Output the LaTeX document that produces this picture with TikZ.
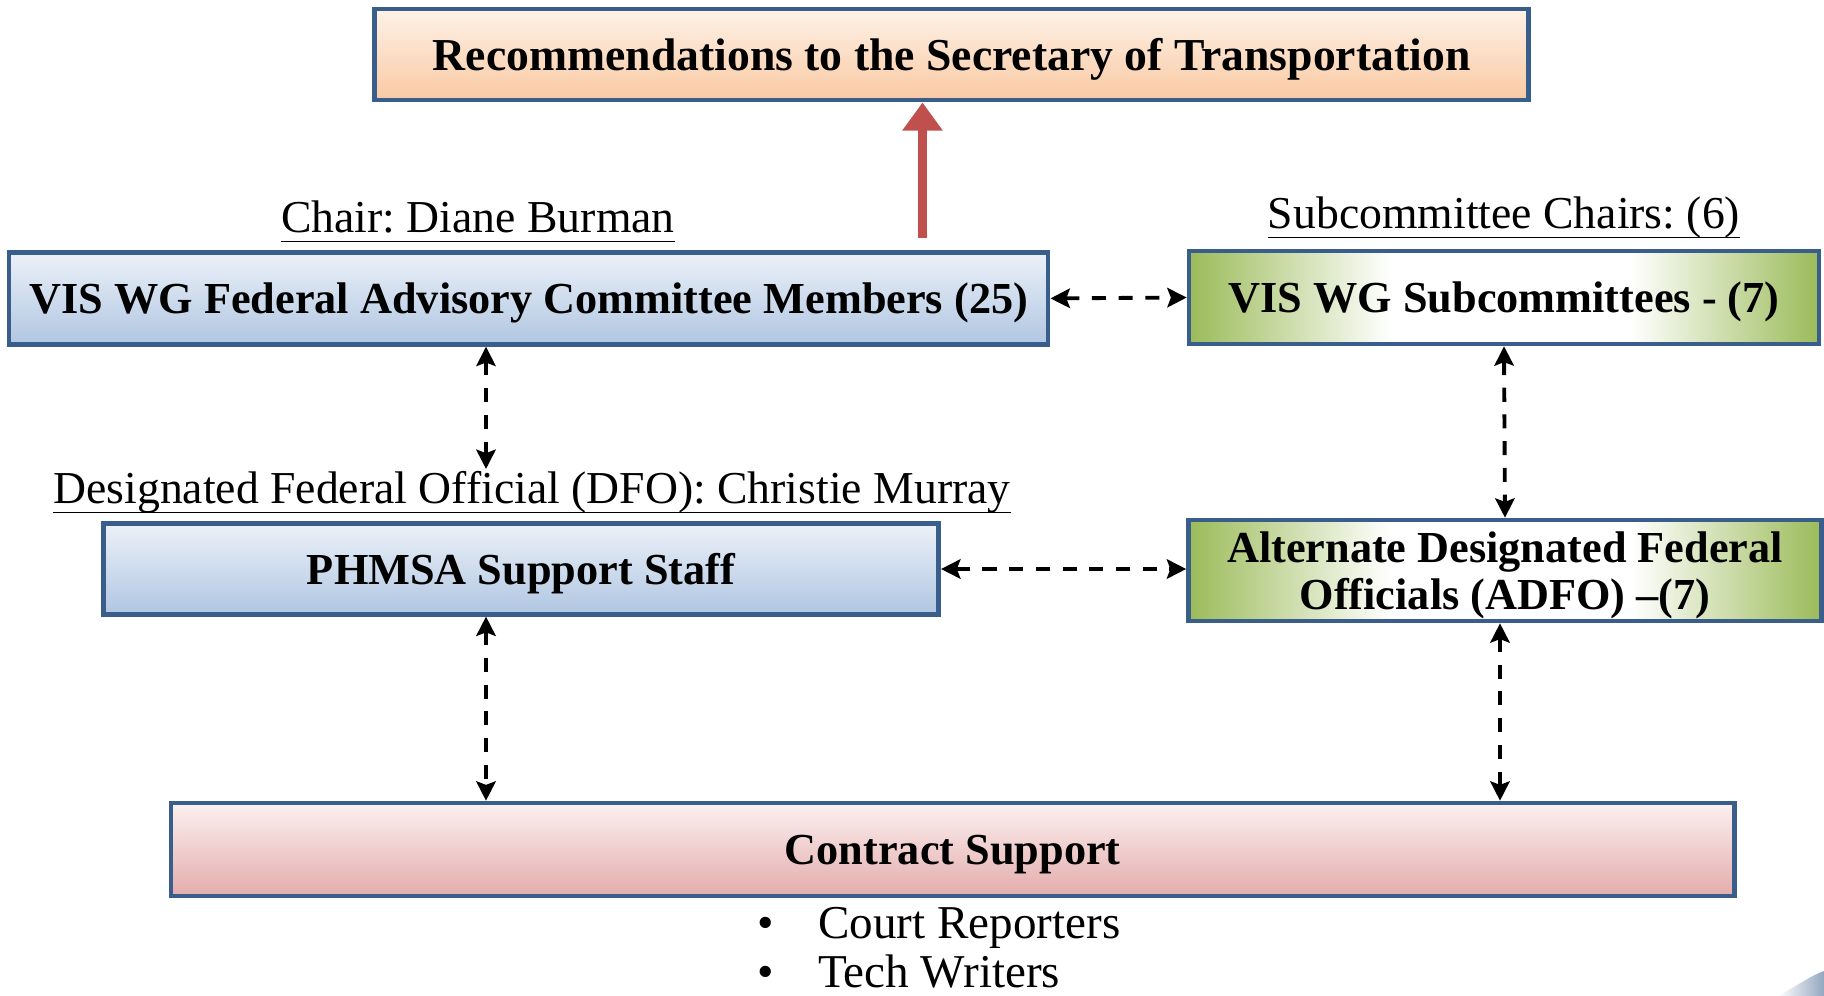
\documentclass[tikz,border=0pt]{standalone}
\usepackage{fontspec}
\setmainfont{Liberation Serif}
\usepackage{tikz}
\usetikzlibrary{arrows, arrows.meta, positioning}
\frenchspacing

\definecolor{frameblue}{RGB}{58,94,140}
\definecolor{peachtop}{RGB}{254,242,232}
\definecolor{peachbot}{RGB}{249,201,162}
\definecolor{bluetop}{RGB}{236,241,248}
\definecolor{bluebot}{RGB}{176,198,226}
\definecolor{leafgreen}{RGB}{155,187,89}
\definecolor{pinktop}{RGB}{252,240,240}
\definecolor{pinkbot}{RGB}{228,172,172}
\definecolor{arrowred}{RGB}{192,80,77}

\pgfdeclarehorizontalshading{leafshade}{100bp}{color(0bp)=(leafgreen); color(25bp)=(leafgreen);
  color(41bp)=(white); color(60bp)=(white); color(75bp)=(leafgreen); color(100bp)=(leafgreen)}

\newcommand{\headtext}[1]{\underline{\raisebox{0pt}[\height][1.2pt]{#1}}}

\begin{document}
\begin{tikzpicture}[
            > = {Stealth[length=5.5pt, width=5.5pt, inset=1pt]}, % arrow head style
            semithick, % line style
            font = \fontsize{12.6}{14}\selectfont
        ]

        \tikzstyle{orgbox}=[
            draw = frameblue,
            line width = 1.3pt,
            inner sep = 0pt,
            text depth = 0pt,
            align = center,
            font = \fontsize{12.6}{14.5}\selectfont\bfseries
        ]
        \tikzstyle{peachbox}=[orgbox, top color = peachtop, bottom color = peachbot]
        \tikzstyle{bluebox}=[orgbox, top color = bluetop, bottom color = bluebot]
        \tikzstyle{greenbox}=[orgbox, shade, shading = leafshade]
        \tikzstyle{pinkbox}=[orgbox, top color = pinktop, bottom color = pinkbot]
        \tikzstyle{headline}=[inner sep = 0pt, font = \fontsize{13}{15}\selectfont]
        \tikzstyle{link}=[<->, line width = 1.1pt, dash pattern = on 4pt off 3.6pt]

        \useasboundingbox (0,0) rectangle (18.24,-9.96);

        % boxes
        \node[peachbox, minimum width = 11.54cm, minimum height = 0.91cm, font = \fontsize{13}{15}\selectfont\bfseries] (rec) at (9.516,-0.547) {Recommendations to the Secretary of Transportation};
        \node[bluebox, minimum width = 10.39cm, minimum height = 0.92cm] (fac) at (5.287,-2.984) {VIS WG Federal Advisory Committee Members (25)};
        \node[greenbox, minimum width = 6.30cm, minimum height = 0.93cm] (sub) at (15.04,-2.975) {VIS WG Subcommittees - (7)};
        \node[bluebox, minimum width = 8.355cm, minimum height = 0.905cm] (phm) at (5.21,-5.69) {PHMSA Support Staff};
        \node[greenbox, minimum width = 6.33cm, minimum height = 1.01cm] (adf) at (15.05,-5.705) {Alternate Designated Federal\\[-1pt]Officials (ADFO) --(7)};
        \node[pinkbox, minimum width = 15.635cm, minimum height = 0.93cm] (con) at (9.527,-8.495) {Contract Support};

        % labels
        \node[headline] (chair) at (4.78,-2.22) {\headtext{Chair: Diane Burman}};
        \node[headline] (subch) at (15.04,-2.18) {\headtext{Subcommittee Chairs: (6)}};
        \node[headline] (dfo) at (5.32,-4.93) {\headtext{Designated Federal Official (DFO): Christie Murray}};
        \node[headline, anchor = north west, align = left, font = \fontsize{13.4}{13.9}\selectfont] (tasks) at (7.56,-9.06)
            {\textbullet\hspace{0.95em}Court Reporters\\\textbullet\hspace{0.95em}Tech Writers};

        \coordinate (redfoot) at (9.225,-2.385);
        \coordinate (dfotop) at (4.86,-4.69);

        % connectors
        \draw[-{Triangle[length=8pt, width=11pt]}, arrowred, line width = 2.8pt] (redfoot) -- (rec.south -| redfoot);
        \path[link] (fac.east) edge (sub.west);
        \path[link] (fac.south -| dfotop) edge (dfotop);
        \path[link] (sub.south) edge (adf.north);
        \path[link] (phm.east) edge (phm.east -| adf.west);
        \path[link] (phm.south -| dfotop) edge (con.north -| dfotop);
        \path[link] ([xshift=-0.05cm]adf.south) edge ([xshift=-0.05cm]con.north -| adf.south);

        % corner of the slide background
        \shade[left color = white, right color = frameblue!55] (17.78,-9.96) .. controls (17.95,-9.87) and (18.1,-9.76) .. (18.24,-9.71) -- (18.24,-9.96) -- cycle;

  \end{tikzpicture}
\end{document}
